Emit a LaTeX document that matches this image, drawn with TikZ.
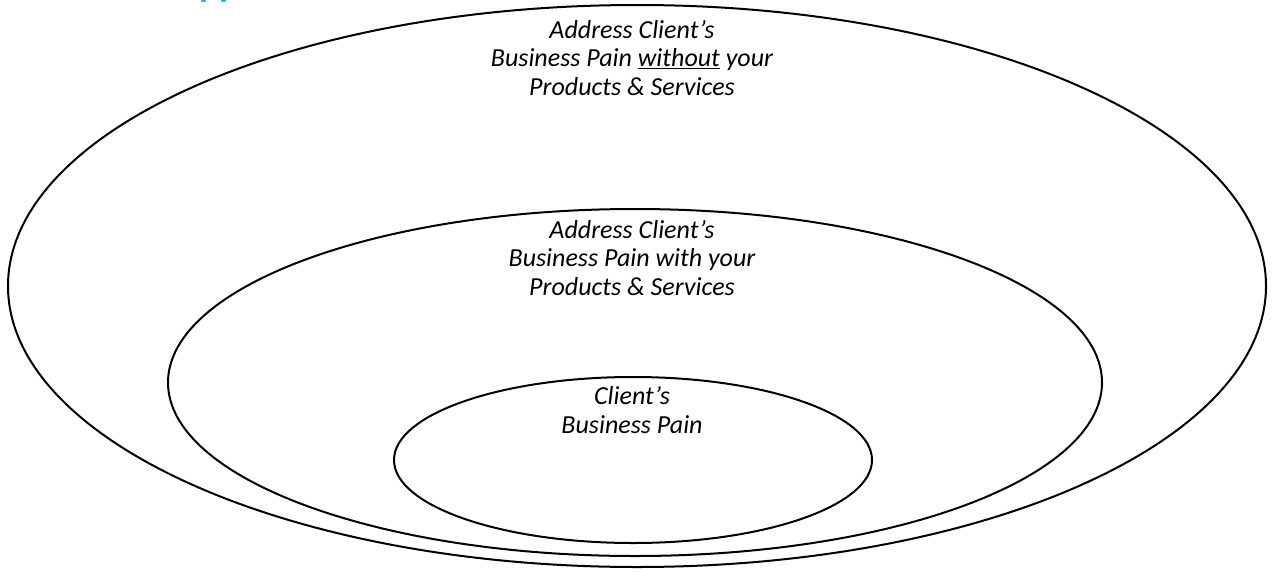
\documentclass[tikz,border=0pt]{standalone}
\usepackage{fontspec}
\setmainfont{Carlito}
\definecolor{headblue}{RGB}{0,176,240}
\begin{document}
\begin{tikzpicture}[x=1pt,y=-1pt,
  ring/.style={draw=black,line width=2pt},
  lbl/.style={font=\fontsize{26}{28.6}\selectfont\itshape,align=center,inner sep=0pt}]
\useasboundingbox (0,0) rectangle (1280,571);
\begin{scope}
\clip (0,0) rectangle (1280,571);
\node[anchor=base west,inner sep=0pt,text=headblue,font=\fontsize{37}{40}\selectfont\bfseries] (head) at (199,-3.5) {pp};
\end{scope}
\draw[ring] (637,286) ellipse [x radius=629,y radius=281];
\draw[ring] (635,382.5) ellipse [x radius=467,y radius=173.5];
\draw[ring] (633,460) ellipse [x radius=239,y radius=83];
\node[lbl] (outer) at (632,58) {Address Client’s\\Business Pain \underline{without} your\\Products \& Services};
\node[lbl] (middle) at (632,258) {Address Client’s\\Business Pain with your\\Products \& Services};
\node[lbl] (inner) at (632,410) {Client’s\\Business Pain};
\end{tikzpicture}
\end{document}
